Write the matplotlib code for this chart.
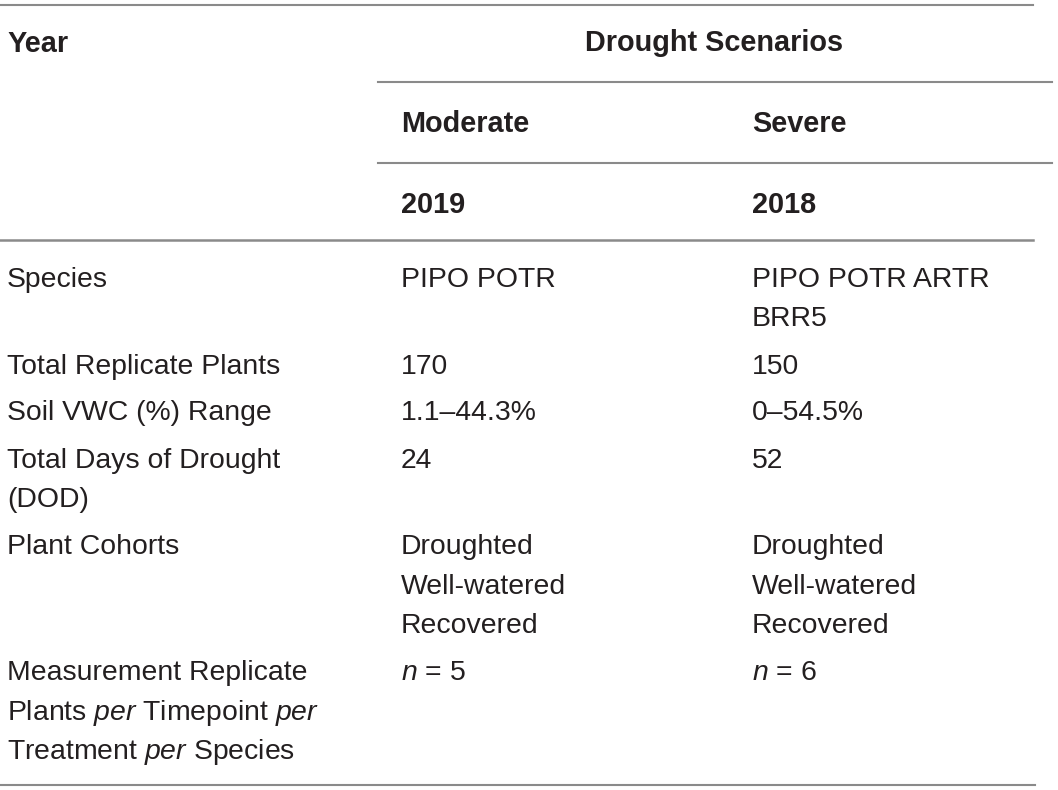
import matplotlib
matplotlib.use("Agg")
import matplotlib.pyplot as plt

plt.rcParams['font.family'] = ['Liberation Sans', 'DejaVu Sans']
plt.rcParams['mathtext.fontset'] = 'custom'
plt.rcParams['mathtext.rm'] = 'Liberation Sans'
plt.rcParams['mathtext.it'] = 'Liberation Sans:italic'

# table content
header_year = "Year"
header_group = "Drought Scenarios"
scenarios = ["Moderate", "Severe"]
years = ["2019", "2018"]

row_labels = [
    ["Species"],
    ["Total Replicate Plants"],
    ["Soil VWC (%) Range"],
    ["Total Days of Drought", "(DOD)"],
    ["Plant Cohorts"],
    ["Measurement Replicate", r"Plants $\mathit{per}$ Timepoint $\mathit{per}$",
     r"Treatment $\mathit{per}$ Species"],
]
moderate = [
    ["PIPO POTR"],
    ["170"],
    ["1.1–44.3%"],
    ["24"],
    ["Droughted", "Well-watered", "Recovered"],
    [r"$n$ = 5"],
]
severe = [
    ["PIPO POTR ARTR", "BRR5"],
    ["150"],
    ["0–54.5%"],
    ["52"],
    ["Droughted", "Well-watered", "Recovered"],
    [r"$n$ = 6"],
]

W, H = 1058, 790
fig = plt.figure(figsize=(W / 100, H / 100), dpi=100)
ax = fig.add_axes([0, 0, 1, 1])
ax.set_xlim(0, W)
ax.set_ylim(H, 0)
ax.axis('off')

txt = '#231f20'
rule = '#8a8a8a'
fs = 20.4
fs_b = 20.8
col_x = [7, 401, 752]

# horizontal rules
ax.plot([0, 1033], [5, 5], color=rule, lw=1.5)
ax.plot([378, 1052], [82, 82], color=rule, lw=1.5)
ax.plot([378, 1052], [163, 163], color=rule, lw=1.5)
ax.plot([0, 1033], [240, 240], color=rule, lw=1.8)
ax.plot([0, 1035], [785, 785], color=rule, lw=1.5)

# header
ax.text(col_x[0], 52, header_year, fontsize=fs_b, fontweight='bold', color=txt, va='baseline')
ax.text(714, 51, header_group, fontsize=fs_b, fontweight='bold', color=txt,
        va='baseline', ha='center')
for x, s, y in zip(col_x[1:], scenarios, years):
    ax.text(x, 132, s, fontsize=fs_b, fontweight='bold', color=txt, va='baseline')
    ax.text(x, 213, y, fontsize=fs_b, fontweight='bold', color=txt, va='baseline')

# body
step, gap = 39.5, 47
y0 = 287
for lab, mod, sev in zip(row_labels, moderate, severe):
    for j, cell in enumerate([lab, mod, sev]):
        for i, line in enumerate(cell):
            ax.text(col_x[j], y0 + i * step, line, fontsize=fs, color=txt, va='baseline')
    n = max(len(lab), len(mod), len(sev))
    y0 += (n - 1) * step + gap

fig.savefig("out.png", dpi=100)
